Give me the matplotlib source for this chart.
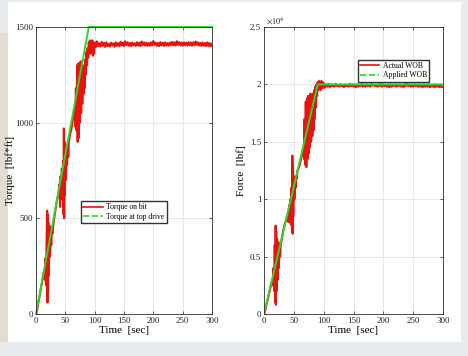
import numpy as np
import matplotlib
matplotlib.use("Agg")
import matplotlib.pyplot as plt
from matplotlib.lines import Line2D
from matplotlib.patches import Rectangle

plt.rcParams['font.family'] = ['Liberation Serif', 'DejaVu Serif']
plt.rcParams['mathtext.fontset'] = 'stix'

# ---------------- data ----------------
# applied / top drive set points
t_set = [0, 90, 300]
torque_top = [0, 1500, 1500]
wob_applied = [0, 20000, 20000]

# ramp part of the measured signals (t in sec)
t_ramp = [0, 2, 4, 6, 8, 10, 12, 14, 15, 16, 17, 18, 19, 19.5, 20, 20.5, 21, 22, 23, 24,
          25, 26, 27, 28, 30, 32, 34, 36, 38, 40, 41, 42, 43, 44, 45, 46, 47, 47.5, 48, 48.5,
          49, 50, 51, 52, 53, 54, 55, 56, 58, 60, 62, 64, 66, 67, 68, 69, 70, 71, 72, 73,
          74, 75, 76, 77, 78, 79, 80, 81, 82, 83, 84, 85, 86, 87, 88, 89, 90, 91, 92, 93,
          94, 95, 96, 97, 98, 99]
torque_ramp = [0, 20, 60, 90, 130, 160, 200, 230, 180, 290, 150, 380, 540, 60, 520, 120, 480, 200, 460, 300,
               450, 360, 440, 420, 480, 520, 560, 600, 620, 680, 560, 720, 600, 760, 620, 800, 520, 970, 500, 900,
               620, 820, 700, 860, 780, 880, 820, 900, 940, 960, 1000, 1040, 1080, 980, 1180, 960, 1300, 900, 1310, 920,
               1300, 1000, 1320, 1050, 1320, 1100, 1290, 1150, 1300, 1180, 1330, 1250, 1370, 1300, 1390, 1340, 1420, 1380, 1430, 1360,
               1420, 1390, 1430, 1350, 1410, 1360]
wob_ramp = [0, 300, 800, 1200, 1700, 2100, 2600, 3000, 2500, 4000, 2000, 6000, 1000, 7700, 800, 7200, 2000, 6500, 3000, 6200,
            4000, 6200, 5000, 6000, 6600, 7200, 7700, 8000, 8400, 8600, 8000, 9500, 8200, 10000, 7800, 11000, 7200, 13800, 7000, 13000,
            8500, 12000, 10000, 11500, 11000, 12000, 11800, 12500, 12700, 13000, 13500, 14000, 14500, 13500, 17000, 13000, 18500, 12800, 18800, 13500,
            19000, 14000, 18800, 14500, 19200, 15000, 19000, 15500, 19200, 16000, 19500, 17000, 19800, 18000, 20000, 19000, 20200, 19500, 20300, 19600,
            20200, 19500, 20300, 19700, 20200, 19700]

# steady part, every 2 sec from 100 to 300
t_steady = list(range(100, 301, 2))
torque_steady = [1420, 1395, 1425, 1400, 1415, 1398, 1422, 1402, 1418, 1396, 1420, 1400, 1412, 1398, 1418, 1403, 1415, 1397, 1420, 1401,
                 1416, 1399, 1423, 1404, 1418, 1400, 1425, 1405, 1420, 1402, 1417, 1400, 1419, 1404, 1415, 1401, 1420, 1403, 1418, 1400,
                 1424, 1406, 1420, 1403, 1418, 1401, 1416, 1402, 1420, 1404, 1427, 1406, 1419, 1402, 1417, 1400, 1421, 1404, 1418, 1401,
                 1420, 1403, 1416, 1402, 1419, 1405, 1422, 1404, 1420, 1403, 1426, 1407, 1421, 1404, 1419, 1402, 1420, 1405, 1418, 1403,
                 1421, 1404, 1419, 1402, 1420, 1405, 1424, 1406, 1420, 1403, 1418, 1401, 1419, 1402, 1417, 1400, 1420, 1401, 1416, 1399,
                 1412]
wob_steady = [20100, 19700, 20000, 19800, 20050, 19750, 20000, 19850, 19950, 19800, 20050, 19850, 19950, 19800, 20000, 19850, 19950, 19750, 20000, 19850,
              19950, 19800, 20050, 19850, 20000, 19800, 19950, 19750, 20000, 19800, 19950, 19850, 20050, 19800, 19950, 19800, 20000, 19850, 19950, 19800,
              20050, 19900, 20000, 19850, 19950, 19800, 20000, 19850, 20050, 19800, 20000, 19850, 19950, 19800, 19950, 19750, 20000, 19800, 19950, 19850,
              20000, 19800, 19950, 19850, 20000, 19800, 19950, 19750, 20050, 19850, 20100, 19850, 20000, 19800, 19950, 19800, 20000, 19850, 19950, 19800,
              20000, 19800, 19950, 19750, 20000, 19800, 19950, 19800, 20000, 19750, 19950, 19800, 19950, 19750, 20000, 19800, 19950, 19750, 19900, 19750,
              19800]

t_meas = t_ramp + t_steady
torque_bit = torque_ramp + torque_steady
wob_actual = wob_ramp + wob_steady

xticks = [0, 50, 100, 150, 200, 250, 300]
red = '#e8120f'
green = '#2bd92b'

# ---------------- figure ----------------
fig = plt.figure(figsize=(4.68, 3.56), dpi=100, facecolor='#e9ecef')
W, H = 468, 356
fig.patches.append(Rectangle((8 / W, 1 - 342 / H), 453 / W, 340 / H,
                             transform=fig.transFigure, facecolor='white', edgecolor='none', zorder=-2))
fig.patches.append(Rectangle((0, 1 - 342 / H), 8 / W, 309 / H,
                             transform=fig.transFigure, facecolor='#e4dbd1', edgecolor='none', zorder=-2))

ax1 = fig.add_axes([36 / W, 1 - 314 / H, 176 / W, 287 / H])
ax2 = fig.add_axes([264 / W, 1 - 314 / H, 179 / W, 287 / H])


def style(ax):
    ax.set_xlim(0, 300)
    ax.set_xticks(xticks)
    ax.grid(True, color='#e4e4e4', lw=0.6)
    ax.set_axisbelow(True)
    ax.tick_params(direction='in', top=True, right=True, length=2.5, width=0.5,
                   labelsize=6.5, pad=2, colors='#262626')
    for s in ax.spines.values():
        s.set_linewidth(0.6)
        s.set_color('#303030')
    ax.set_xlabel('Time  [sec]', fontsize=8, labelpad=1)


# left panel: torque
ax1.plot(t_meas, torque_bit, color=red, lw=1.5)
ax1.plot(t_set, torque_top, color=green, lw=1.4, clip_on=False)
style(ax1)
ax1.set_ylim(0, 1500)
ax1.set_yticks([0, 500, 1000, 1500])
ax1.set_ylabel('Torque  [lbf*ft]', fontsize=8, labelpad=0)
h1 = [Line2D([], [], color=red, lw=1.2), Line2D([], [], color=green, lw=1.2, ls='--')]
ax1.legend(h1, ['Torque on bit', 'Torque at top drive'], fontsize=5.5, loc='center',
           bbox_to_anchor=(0.5, 0.355), fancybox=False, framealpha=1, edgecolor='#333333',
           handlelength=2.5, borderpad=0.3, labelspacing=0.2, handletextpad=0.5)

# right panel: force
ax2.plot(t_meas, wob_actual, color=red, lw=1.5)
ax2.plot(t_set, wob_applied, color=green, lw=1.4)
style(ax2)
ax2.set_ylim(0, 25000)
ax2.set_yticks([0, 5000, 10000, 15000, 20000, 25000])
ax2.set_yticklabels(['0', '0.5', '1', '1.5', '2', '2.5'])
ax2.set_ylabel('Force  [lbf]', fontsize=8, labelpad=3)
ax2.text(0.01, 1.003, r'$\times10^4$', transform=ax2.transAxes, fontsize=6,
         ha='left', va='bottom', color='#262626')
h2 = [Line2D([], [], color=red, lw=1.2), Line2D([], [], color=green, lw=1.2, ls='--')]
ax2.legend(h2, ['Actual WOB', 'Applied WOB'], fontsize=5.5, loc='upper right',
           bbox_to_anchor=(0.945, 0.9), fancybox=False, framealpha=1, edgecolor='#333333',
           handlelength=2.5, borderpad=0.3, labelspacing=0.2, handletextpad=0.5)

fig.savefig('out.png', dpi=100, facecolor=fig.get_facecolor())
